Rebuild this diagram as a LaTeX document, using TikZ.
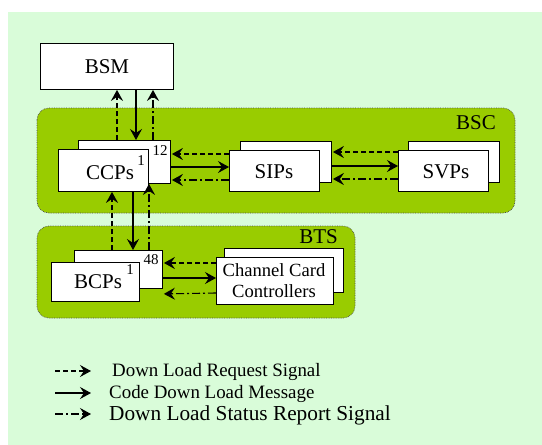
\documentclass[tikz,border=0pt]{standalone}
\usepackage{fontspec}
\setmainfont{Liberation Serif}
\usetikzlibrary{arrows.meta}
\definecolor{bglight}{HTML}{D9FCD9}
\definecolor{regiongreen}{HTML}{99CC00}
\tikzset{
  box/.style={draw=black, fill=white, line width=0.9pt, inner sep=0pt, anchor=north west},
  region/.style={draw=black!70, densely dotted, line width=0.7pt, fill=regiongreen, rounded corners=12pt},
  lbl/.style={inner sep=0pt, font=\fontsize{21}{24}\selectfont},
  sup/.style={inner sep=0pt, font=\fontsize{15}{17}\selectfont},
  tip/.style={-{Stealth[length=11pt,width=12pt,inset=4pt]}},
  sig/.style={tip, line width=1.1pt},
  req/.style={sig, dash pattern=on 5pt off 3pt},
  msg/.style={sig},
  rep/.style={sig, dash pattern=on 8pt off 3pt on 2pt off 3pt},
}
\begin{document}
\begin{tikzpicture}[x=1pt,y=-1pt]
\useasboundingbox (0,0) rectangle (542,445);
\fill[white] (0,0) rectangle (542,445);
\fill[bglight] (8,12) rectangle (542,445);

% regions
\draw[region] (37,108) rectangle (515,213);
\draw[region] (37,226) rectangle (355,318);
\node[lbl, anchor=east] (bsclbl) at (496,123) {BSC};
\node[lbl, anchor=east] (btslbl) at (338,237) {BTS};

% BSM
\node[box, minimum width=133pt, minimum height=46pt] (bsm) at (40,43) {};
\node[lbl] (bsmtxt) at (bsm.center) {BSM};

% CCPs
\node[box, minimum width=92pt, minimum height=43pt] (ccpb) at (78,140) {};
\node[box, minimum width=90pt, minimum height=42pt] (ccpf) at (58,149) {};
\node[lbl] (ccptxt) at (110,173) {CCPs};
\node[sup] (ccpsup) at (141,161) {1};
\node[sup] (ccpn) at (160,151) {12};

% SIPs
\node[box, minimum width=91pt, minimum height=41pt] (sipb) at (240,141) {};
\node[box, minimum width=90pt, minimum height=41pt] (sipf) at (229,150) {};
\node[lbl] (siptxt) at (274,172) {SIPs};

% SVPs
\node[box, minimum width=91pt, minimum height=41pt] (svpb) at (408,141) {};
\node[box, minimum width=90pt, minimum height=41pt] (svpf) at (398,150) {};
\node[lbl] (svptxt) at (446,172) {SVPs};

% BCPs
\node[box, minimum width=88pt, minimum height=38pt] (bcpb) at (74,250) {};
\node[box, minimum width=88pt, minimum height=39pt] (bcpf) at (51,262) {};
\node[lbl] (bcptxt) at (98,282) {BCPs};
\node[sup] (bcpsup) at (130,270) {1};
\node[sup] (bcpn) at (151,260) {48};

% Channel Card Controllers
\node[box, minimum width=119pt, minimum height=44pt] (cccb) at (224,248) {};
\node[box, minimum width=117pt, minimum height=47pt] (cccf) at (216,257) {};
\node[inner sep=0pt, align=center, font=\fontsize{18.6}{21}\selectfont] (ccctxt) at (274,281) {Channel Card\\Controllers};

% BSM <-> CCPs
\draw[req] ([xshift=39pt]ccpb.north west) -- ([xshift=77pt]bsm.south west);
\draw[msg] ([xshift=96pt]bsm.south west) -- ([xshift=58pt]ccpb.north west);
\draw[rep] ([xshift=75pt]ccpb.north west) -- ([xshift=113pt]bsm.south west);

% CCPs <-> SIPs
\draw[req] ([yshift=-4pt]sipf.north west) -- ([yshift=-14pt,xshift=1pt]ccpb.north east);
\draw[msg] ([yshift=-27pt]ccpb.north east) -- ([yshift=-17pt]sipf.north west);
\draw[rep] ([yshift=-30pt]sipf.north west) -- ([yshift=-40pt,xshift=1pt]ccpb.north east);

% SIPs <-> SVPs
\draw[req] ([yshift=-2pt]svpf.north west) -- ([yshift=-11pt,xshift=1pt]sipb.north east);
\draw[msg] ([yshift=-25pt]sipb.north east) -- ([yshift=-16pt]svpf.north west);
\draw[rep] ([yshift=-29pt]svpf.north west) -- ([yshift=-38pt,xshift=1pt]sipb.north east);

% CCPs <-> BCPs
\draw[req] ([xshift=38pt]bcpb.north west) -- ([xshift=54pt]ccpf.south west);
\draw[msg] ([xshift=75pt]ccpf.south west) -- ([xshift=59pt]bcpb.north west);
\draw[rep] ([xshift=75pt]bcpb.north west) -- ([xshift=71pt]ccpb.south west);

% BCPs <-> Channel Card Controllers
\draw[req] ([yshift=-6pt]cccf.north west) -- ([yshift=-13pt,xshift=1pt]bcpb.north east);
\draw[msg] ([yshift=-28pt]bcpb.north east) -- ([yshift=-21pt]cccf.north west);
\draw[rep] ([yshift=-36pt]cccf.north west) -- ([yshift=-5pt,xshift=1pt]bcpb.south east);

% legend
\coordinate (l1a) at (55,371); \coordinate (l1b) at (91,371);
\coordinate (l2a) at (55,393); \coordinate (l2b) at (91,393);
\coordinate (l3a) at (55,414); \coordinate (l3b) at (91,414);
\draw[req] (l1a) -- (l1b);
\draw[msg] (l2a) -- (l2b);
\draw[rep] (l3a) -- (l3b);
\node[inner sep=0pt, anchor=west, font=\fontsize{18.9}{21}\selectfont] (leg1) at (112,372) {Down Load Request Signal};
\node[inner sep=0pt, anchor=west, font=\fontsize{18.9}{21}\selectfont] (leg2) at (109,394) {Code Down Load Message};
\node[inner sep=0pt, anchor=west, font=\fontsize{21.3}{24}\selectfont] (leg3) at (109,415) {Down Load Status Report Signal};
\end{tikzpicture}
\end{document}
